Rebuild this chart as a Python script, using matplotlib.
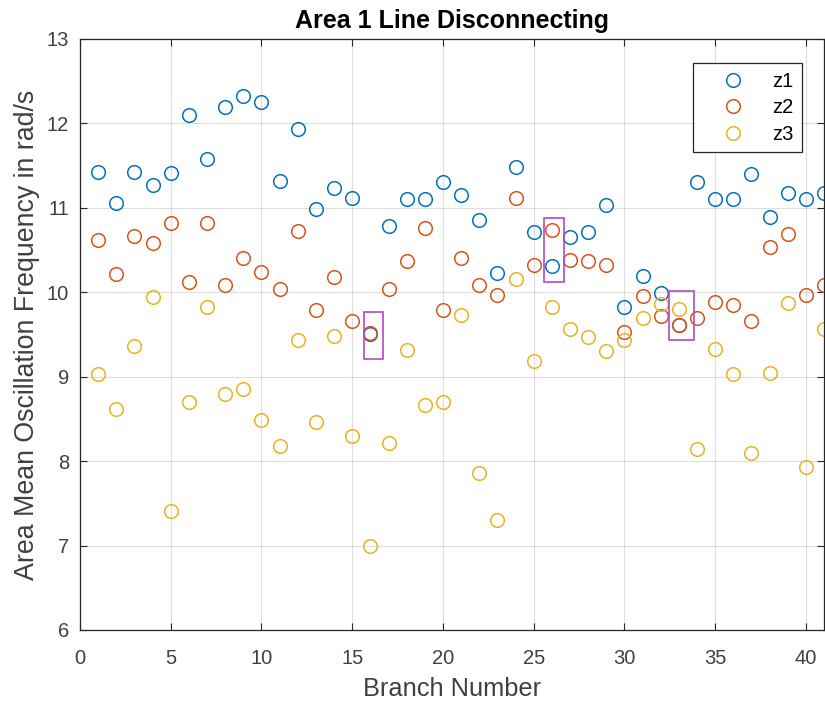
import numpy as np
import matplotlib
matplotlib.use("Agg")
import matplotlib.pyplot as plt
from matplotlib.patches import Rectangle

plt.rcParams['font.family'] = ['Liberation Sans', 'DejaVu Sans']

# branch numbers 1..41
branch = list(range(1, 42))

z1 = [11.43, 11.06, 11.42, 11.27, 11.41, 12.10, 11.58, 12.19, 12.33, 12.25,
      11.32, 11.93, 10.99, 11.23, 11.12, 9.50, 10.79, 11.10, 11.10, 11.30,
      11.15, 10.85, 10.23, 11.48, 10.71, 10.31, 10.66, 10.71, 11.03, 9.82,
      10.19, 9.99, 9.61, 11.30, 11.10, 11.10, 11.40, 10.89, 11.17, 11.11,
      11.18]

z2 = [10.62, 10.22, 10.67, 10.58, 10.82, 10.12, 10.82, 10.09, 10.41, 10.24,
      10.04, 10.73, 9.79, 10.18, 9.66, 9.52, 10.04, 10.37, 10.76, 9.79,
      10.41, 10.08, 9.97, 11.12, 10.32, 10.74, 10.38, 10.37, 10.32, 9.53,
      9.96, 9.72, 9.61, 9.69, 9.88, 9.85, 9.66, 10.54, 10.69, 9.97,
      10.09]

z3 = [9.03, 8.62, 9.36, 9.94, 7.41, 8.70, 9.83, 8.79, 8.86, 8.49,
      8.18, 9.44, 8.46, 9.48, 8.30, 6.99, 8.21, 9.32, 8.66, 8.70,
      9.73, 7.86, 7.30, 10.16, 9.19, 9.83, 9.56, 9.47, 9.31, 9.44,
      9.69, 9.86, 9.80, 8.14, 9.33, 9.03, 8.10, 9.04, 9.87, 7.93,
      9.57]

# highlighted branches: (x0, x1, y0, y1)
boxes = [(15.65, 16.70, 9.21, 9.77),
         (25.56, 26.67, 10.12, 10.88),
         (32.45, 33.85, 9.44, 10.02)]

fig = plt.figure(figsize=(8.25, 7.02), dpi=100)
ax = fig.add_axes([0.0970, 0.1026, 0.9018, 0.8419])

cols = ['#0072BD', '#D95319', '#EDB120']
for vals, c, lab in zip([z1, z2, z3], cols, ['z1', 'z2', 'z3']):
    ax.plot(branch, vals, 'o', ms=9.8, mfc='none', mec=c, mew=1.1, label=lab)

for x0, x1, y0, y1 in boxes:
    ax.add_patch(Rectangle((x0, y0), x1 - x0, y1 - y0, fill=False,
                           edgecolor='#B04CBF', lw=1.2, zorder=3))

ax.set_xlim(0, 41)
ax.set_ylim(6, 13)
ax.set_xticks(range(0, 41, 5))
ax.set_yticks(range(6, 14))
ax.grid(True, color='#262626', alpha=0.15, lw=0.8)
ax.set_axisbelow(True)
ax.tick_params(direction='in', length=5, width=0.8, colors='#262626',
               labelsize=14.5, top=True, right=True, pad=8,
               labelcolor='#404040')
ax.tick_params(axis='x', pad=13.5)
for s in ax.spines.values():
    s.set_color('#262626')
    s.set_linewidth(0.9)

ax.set_title('Area 1 Line Disconnecting', fontsize=18, fontweight='bold', pad=8)
ax.set_xlabel('Branch Number', fontsize=18.3, color='#404040', labelpad=7)
ax.set_ylabel('Area Mean Oscillation Frequency in rad/s', fontsize=19.3,
              color='#404040', labelpad=5)

leg = ax.legend(loc='upper right', bbox_to_anchor=(0.970, 0.959), borderaxespad=0,
                fontsize=14.5, frameon=True, fancybox=False, framealpha=1,
                edgecolor='#262626', handletextpad=0.4, borderpad=0.42,
                labelspacing=0.38, handlelength=3.1)
leg.get_frame().set_linewidth(0.9)

fig.savefig('out.png', dpi=100)
